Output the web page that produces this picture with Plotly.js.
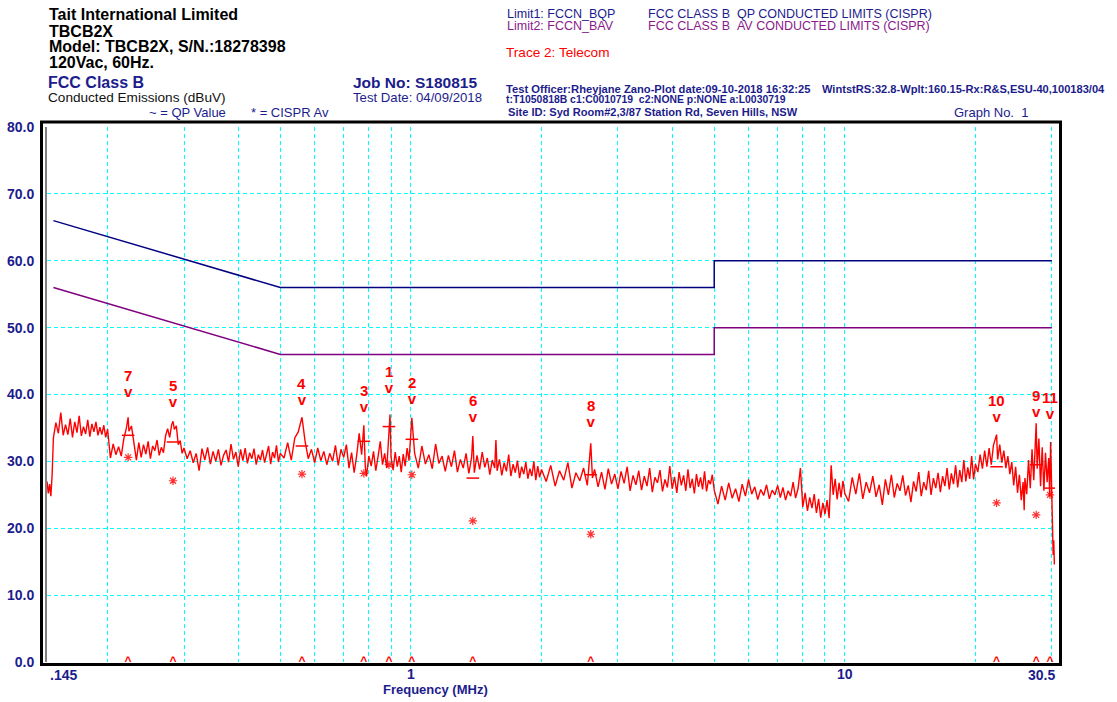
<!DOCTYPE html>
<html><head><meta charset="utf-8">
<script src="https://cdn.plot.ly/plotly-3.0.1.min.js"></script>
<style>html,body{margin:0;padding:0;background:#fff}#chart{width:1117px;height:702px}</style>
</head><body><div id="chart"></div>
<script>
const traceFreqMHz = [
0.145,0.146,0.147,0.148,0.149,
0.150,0.152,0.154,0.156,0.158,0.160,0.162,0.164,0.166,0.168,0.170,0.172,0.174,0.176,0.178,0.180,0.182,0.184,0.186,0.188,0.190,0.192,0.194,0.196,0.198,0.200,
0.203,0.206,0.209,0.212,0.215,0.218,0.221,0.223,0.224,0.227,0.230,0.233,0.236,0.239,0.242,0.245,0.248,0.251,0.254,0.257,0.260,0.263,0.266,0.269,0.272,0.275,0.278,0.281,0.283,0.285,0.288,0.291,0.294,0.297,0.300,
0.305,0.310,0.315,0.320,0.325,0.330,0.335,0.340,0.345,0.350,0.355,0.360,0.365,0.370,0.375,0.380,0.385,0.390,0.395,0.400,0.405,0.410,0.415,0.420,0.425,0.430,0.435,0.440,0.445,0.450,0.455,0.460,0.465,0.470,0.475,0.480,0.485,0.490,0.495,0.500,
0.51,0.52,0.53,0.54,0.55,0.561,0.57,0.58,0.59,0.60,0.61,0.62,0.63,0.64,0.65,0.66,0.67,0.68,0.69,0.70,0.71,0.72,0.73,0.74,0.75,0.76,0.77,0.779,0.785,0.79,0.80,0.81,0.82,0.83,0.84,0.85,0.86,0.87,0.88,0.895,0.90,0.91,0.92,0.93,0.94,0.95,0.96,0.97,0.98,0.99,1.005,
1.02,1.04,1.06,1.08,1.10,1.12,1.14,1.16,1.18,1.20,1.22,1.24,1.26,1.28,1.30,1.32,1.34,1.36,1.38,1.389,1.40,1.42,1.44,1.46,1.48,1.50,1.52,1.54,1.56,1.57,1.58,1.60,1.62,1.64,1.66,1.68,1.70,1.72,1.74,1.76,1.78,1.80,1.82,1.84,1.86,1.88,1.90,1.92,1.94,1.96,1.98,2.00,
2.05,2.10,2.15,2.20,2.25,2.30,2.35,2.40,2.45,2.50,2.55,2.597,2.62,2.65,2.70,2.75,2.80,2.85,2.90,2.95,3.00,3.05,3.10,3.15,3.20,3.25,3.30,3.35,3.40,3.45,3.50,3.55,3.60,3.65,3.70,3.75,3.80,3.85,3.90,3.95,4.00,4.05,4.10,4.15,4.20,4.25,4.30,4.35,4.40,4.45,4.50,4.55,4.60,4.65,4.70,4.75,4.80,4.85,4.90,4.95,5.00,
5.1,5.2,5.3,5.4,5.5,5.6,5.7,5.8,5.9,6.0,6.1,6.2,6.3,6.4,6.5,6.6,6.7,6.8,6.9,7.0,7.1,7.2,7.3,7.4,7.5,7.6,7.7,7.8,7.9,8.0,8.1,8.2,8.3,8.4,8.5,8.6,8.7,8.8,8.9,9.0,9.1,9.2,9.3,9.4,9.5,9.6,9.7,9.8,9.9,10.0,
10.2,10.4,10.6,10.8,11.0,11.2,11.4,11.6,11.8,12.0,12.2,12.4,12.6,12.8,13.0,13.2,13.4,13.6,13.8,14.0,14.2,14.4,14.6,14.8,15.0,15.2,15.4,15.6,15.8,16.0,16.2,16.4,16.6,16.8,17.0,17.2,17.4,17.6,17.8,18.0,18.2,18.4,18.6,18.8,19.0,19.2,19.4,19.6,19.8,20.0,
20.25,20.5,20.75,21.0,21.25,21.5,21.75,22.0,22.37,22.5,22.75,23.0,23.25,23.5,23.75,24.0,24.25,24.5,24.75,25.0,25.25,25.5,25.75,25.9,26.0,26.25,26.5,26.75,27.0,27.25,27.6,27.75,28.0,28.25,28.5,28.75,29.0,29.25,29.5,29.65,29.8,29.95,30.05,30.12,30.2,30.3,30.4,30.5
];
const traceLevelDb = [
27.0,25.2,26.6,24.8,28.0,
33.5,35.8,34.2,37.3,33.9,35.5,34.0,36.4,33.6,35.9,34.3,36.8,33.8,35.2,34.1,36.2,33.7,35.6,34.4,35.9,33.9,35.1,34.0,35.4,33.6,34.8,
30.5,32.6,31.0,32.2,30.8,33.4,35.0,36.6,34.5,35.3,32.4,30.2,32.8,30.6,32.5,31.1,33.0,30.4,32.3,31.6,33.2,30.9,32.1,31.3,33.8,34.9,33.6,35.5,36.0,34.8,35.3,32.5,33.1,31.2,32.0,
30.4,31.6,29.8,31.2,28.6,31.9,30.2,32.1,29.6,31.5,30.0,31.8,29.4,30.9,31.7,29.9,32.6,30.3,31.4,29.2,31.8,30.1,32.0,29.7,31.3,30.4,31.9,29.5,31.0,30.2,31.7,29.8,30.9,32.3,29.6,31.4,30.5,32.4,29.9,31.2,
30.5,32.8,30.2,33.5,34.4,36.6,33.1,30.4,31.8,29.8,32.0,30.1,31.5,29.5,31.2,30.0,32.4,29.4,31.8,30.6,32.5,29.0,31.3,28.3,30.9,34.2,31.0,35.4,29.2,27.8,30.8,29.3,31.5,28.6,30.7,33.0,29.5,31.2,29.0,37.0,30.6,28.7,31.4,29.2,30.8,28.4,31.1,29.3,32.0,30.1,36.5,
31.2,29.0,32.3,29.6,31.0,28.9,32.6,29.7,30.8,28.5,30.9,29.2,31.6,28.4,30.3,29.0,31.2,28.2,30.6,33.8,28.3,30.9,28.8,31.4,29.1,30.5,28.0,30.2,29.0,33.2,28.6,30.3,27.9,29.8,28.5,31.0,27.8,29.6,28.3,30.1,27.5,29.2,28.1,29.9,27.4,28.9,27.8,30.0,27.2,29.3,27.6,28.8,
27.0,29.4,26.3,28.6,27.2,29.8,26.0,28.3,27.1,29.0,26.4,32.7,27.5,28.8,26.2,28.4,25.8,28.9,26.6,28.1,25.9,28.5,26.7,29.2,25.6,27.9,26.5,28.6,25.7,27.8,26.3,29.0,25.4,27.6,26.8,28.7,25.5,27.3,26.1,29.3,25.9,27.7,25.3,28.4,26.4,27.9,25.6,28.8,26.0,27.4,25.2,28.1,26.2,27.6,25.8,28.5,25.5,27.2,26.6,28.0,25.7,
23.6,26.3,24.2,26.8,24.5,25.9,24.0,26.6,24.8,27.3,25.1,26.2,24.3,25.8,24.9,26.5,24.4,25.7,25.0,26.4,24.6,26.1,24.2,25.6,24.8,26.9,24.5,25.9,29.0,23.2,25.3,22.6,24.6,23.0,25.1,22.3,24.4,21.6,23.8,22.1,24.2,21.5,29.4,25.0,27.4,24.3,26.8,24.6,27.1,25.2,
24.0,27.6,25.1,28.2,24.4,26.9,25.3,27.8,24.7,26.5,23.5,27.3,25.0,28.0,24.6,26.7,25.6,27.9,24.9,26.4,23.9,27.0,25.5,28.4,24.8,26.9,25.7,28.6,25.0,27.5,26.0,28.3,25.4,27.8,26.3,29.0,25.8,28.2,26.6,29.4,26.1,28.7,26.9,30.2,27.0,29.1,27.4,30.8,27.3,29.6,
28.4,31.0,28.9,31.6,29.2,32.0,29.5,32.4,34.0,30.3,32.5,29.8,31.6,29.0,30.8,28.1,29.9,26.4,29.2,25.3,28.0,24.2,26.9,22.7,27.5,25.1,30.2,26.0,31.8,27.2,35.7,28.9,33.4,26.3,32.1,25.6,31.3,26.9,30.5,24.8,32.9,25.0,24.6,19.5,16.0,18.2,14.6,15.2
];

// ---- limits ----
const qpLimitFreqMHz = [0.15, 0.5, 5, 5, 30];
const qpLimitDb      = [66, 56, 56, 60, 60];
const avLimitFreqMHz = [0.15, 0.5, 5, 5, 30];
const avLimitDb      = [56, 46, 46, 50, 50];

// ---- peak markers ----
const markNo      = ['1','2','3','4','5','6','7','8','9','10','11'];
const markFreqMHz = [0.890, 1.005, 0.779, 0.561, 0.283, 1.389, 0.223, 2.597, 27.6, 22.37, 29.7];
const markLabelDb = [40.8, 39.2, 38.0, 39.0, 38.7, 36.5, 40.2, 35.7, 37.2, 36.5, 36.9];
const markQpDb    = [35.2, 33.3, 33.0, 32.3, 32.9, 27.5, 33.9, 28.0, 29.5, 29.2, 26.0];
const markAvDb    = [29.5, 28.0, 28.2, 28.1, 27.1, 21.1, 30.6, 19.1, 22.0, 23.8, 25.0];

// ---- axes ----
const yTickVals  = [0, 10, 20, 30, 40, 50, 60, 70, 80];
const xTickVals  = [1, 10];
const xTickText  = ['1', '10'];
const xEdgeVals  = [0.145, 30.5];
const xEdgeText  = ['.145', '30.5'];
const xGridFreqMHz = [0.2,0.3,0.4,0.5,0.6,0.7,0.8,0.9,2,3,4,5,6,7,8,9,20,30];

const NAVY = '#1c1c8c', PURPLE = '#8a1a8a', RED = '#ff0000';
const FONT = 'Liberation Sans, Arial, sans-serif';
const L = 47, R = 1055, T = 127, B = 662;
const pxX = x => (x - L) / (R - L);
const pxY = y => (B - y) / (B - T);

const traces = [
  {x: qpLimitFreqMHz, y: qpLimitDb, mode: 'lines', line: {color: '#000080', width: 1.5}, hoverinfo: 'skip'},
  {x: avLimitFreqMHz, y: avLimitDb, mode: 'lines', line: {color: '#800080', width: 1.5}, hoverinfo: 'skip'},
  {x: markFreqMHz, y: markAvDb, mode: 'markers',
   marker: {symbol: 'asterisk-open', size: 7, color: '#ff3030', line: {color: '#ff3030', width: 1.2}}},
  {x: traceFreqMHz, y: traceLevelDb, mode: 'lines', line: {color: RED, width: 1.4}},
  {x: markFreqMHz, y: markQpDb, mode: 'markers',
   marker: {symbol: 'line-ew-open', size: 9, color: RED, line: {color: RED, width: 1.5}}},
  {x: markFreqMHz, y: markLabelDb, mode: 'text', text: markFreqMHz.map(() => 'v'), textposition: 'middle center',
   textfont: {family: FONT, size: 15, color: RED, weight: 'bold'}, cliponaxis: false},
  {x: markFreqMHz, y: markFreqMHz.map(() => 0), mode: 'text', text: markFreqMHz.map(() => '^'), textposition: 'middle center',
   textfont: {family: FONT, size: 12, color: RED, weight: 'bold'}, cliponaxis: false}
];

const annotations = [];
markNo.forEach((n, i) => annotations.push({
  x: Math.log10(markFreqMHz[i]), y: markLabelDb[i], xref: 'x', yref: 'y', text: n, showarrow: false,
  yshift: 17.5, font: {family: FONT, size: 15, color: RED, weight: 'bold'}
}));
annotations.push({x: Math.log10(xEdgeVals[0]), y: pxY(674.5), xref: 'x', yref: 'paper', text: xEdgeText[0], showarrow: false,
  xanchor: 'left', yanchor: 'middle', xshift: 1, font: {family: FONT, size: 14, color: NAVY, weight: 'bold'}});
annotations.push({x: Math.log10(xEdgeVals[1]), y: pxY(674.5), xref: 'x', yref: 'paper', text: xEdgeText[1], showarrow: false,
  xanchor: 'right', yanchor: 'middle', xshift: 2, font: {family: FONT, size: 14, color: NAVY, weight: 'bold'}});

const header = [
  ['Tait International Limited', 47, 15, 16, '#000', 'bold'],
  ['TBCB2X', 47, 31.5, 16, '#000', 'bold'],
  ['Model: TBCB2X, S/N.:18278398', 47, 47, 16, '#000', 'bold'],
  ['120Vac, 60Hz.', 47, 62.5, 16, '#000', 'bold'],
  ['FCC Class B', 46, 82, 16, NAVY, 'bold'],
  ['Conducted Emissions (dBuV)', 46, 97, 13.6, '#111', 'normal'],
  ['~ = QP Value', 147, 112, 13, NAVY, 'normal'],
  ['* = CISPR Av', 249, 112, 13, NAVY, 'normal'],
  ['Job No: S180815', 351, 82, 15.5, NAVY, 'bold'],
  ['Test Date: 04/09/2018', 351, 97, 13.2, NAVY, 'normal'],
  ['Limit1: FCCN_BQP', 505, 14, 12.5, NAVY, 'normal'],
  ['FCC CLASS B\u00a0\u00a0QP CONDUCTED LIMITS (CISPR)', 646, 14, 12.5, NAVY, 'normal'],
  ['Limit2: FCCN_BAV', 505, 26, 12.5, PURPLE, 'normal'],
  ['FCC CLASS B\u00a0\u00a0AV CONDUCTED LIMITS (CISPR)', 646, 26, 12.5, PURPLE, 'normal'],
  ['Trace 2: Telecom', 504, 52, 13.6, RED, 'normal'],
  ['Test Officer:Rheyjane Zano-Plot date:09-10-2018 16:32:25', 504, 89, 11.2, NAVY, 'bold'],
  ['WintstRS:32.8-Wplt:160.15-Rx:R&amp;S,ESU-40,100183/04', 820, 89, 11.1, NAVY, 'bold'],
  ['t:T1050818B c1:C0010719\u00a0\u00a0c2:NONE p:NONE a:L0030719', 504, 99.5, 10.4, NAVY, 'bold'],
  ['Site ID: Syd Room#2,3/87 Station Rd, Seven Hills, NSW', 506, 112, 11.1, NAVY, 'bold'],
  ['Graph No.\u00a0\u00a01', 952, 112, 13, NAVY, 'normal'],
  ['Frequency (MHz)', 381, 689.5, 13, NAVY, 'bold']
];
header.forEach(h => annotations.push({
  text: h[0], x: pxX(h[1]), y: pxY(h[2]), xref: 'paper', yref: 'paper', xanchor: 'left', yanchor: 'middle',
  showarrow: false, font: {family: FONT, size: h[3], color: h[4], weight: h[5]}
}));

const grid = {gridcolor: '#00ffff', griddash: '4px,3px', gridwidth: 1};
const layout = {
  width: 1117, height: 702,
  margin: {l: L, r: 1117 - R, t: T, b: 702 - B, pad: 0},
  paper_bgcolor: '#fff', plot_bgcolor: '#fff', showlegend: false,
  font: {family: FONT},
  xaxis: Object.assign({
    type: 'log', range: [Math.log10(xEdgeVals[0]), Math.log10(xEdgeVals[1])],
    tickmode: 'array', tickvals: xTickVals, ticktext: xTickText, ticks: '',
    tickfont: {family: FONT, size: 14, color: NAVY, weight: 'bold'},
    showgrid: true, zeroline: false, showline: false, ticklabelstandoff: 2,
    minor: Object.assign({tickmode: 'array', tickvals: xGridFreqMHz, showgrid: true, ticks: ''}, grid)
  }, grid),
  yaxis: Object.assign({
    range: [0, 80], tickmode: 'array', tickvals: yTickVals, tickformat: '.1f', ticks: '',
    tickfont: {family: FONT, size: 14, color: NAVY, weight: 'bold'},
    showgrid: true, zeroline: false, showline: true, linecolor: '#808080', linewidth: 2,
    ticklabelstandoff: 8
  }, grid),
  shapes: [{type: 'rect', xref: 'paper', yref: 'paper', x0: pxX(41.5), x1: pxX(1060.5), y0: pxY(664.5), y1: pxY(122),
            line: {color: '#000', width: 3}, layer: 'above'}],
  annotations: annotations
};

Plotly.newPlot('chart', traces, layout, {staticPlot: true, displayModeBar: false});
</script></body></html>
